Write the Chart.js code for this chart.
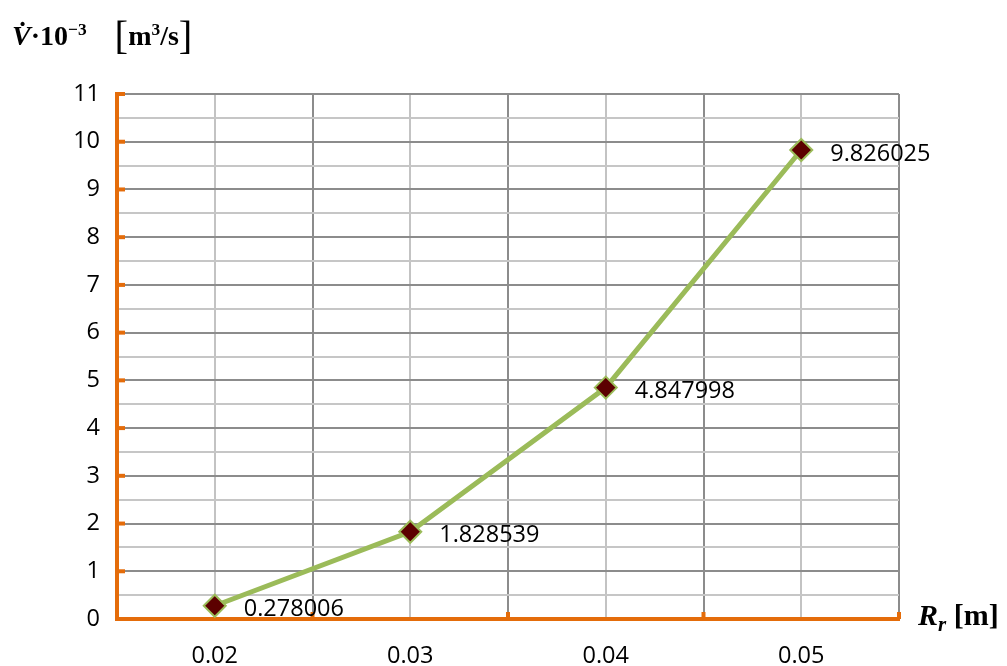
<!DOCTYPE html>
<html>
<head>
<meta charset="utf-8">
<script src="https://cdn.jsdelivr.net/npm/chart.js@4/dist/chart.umd.min.js"></script>
<style>
  body { margin: 0; background: #fff; }
  #wrap { position: relative; width: 1007px; height: 666px; }
  .ttl { position: absolute; font-family: "Liberation Serif", serif; font-weight: bold; color: #000; white-space: nowrap; }
  .ttl sup { font-size: 62%; vertical-align: 0.6em; line-height: 0; }
  .ttl sub { font-size: 70%; vertical-align: -0.3em; line-height: 0; }
  .br { font-weight: normal; font-size: 145%; vertical-align: -0.1em; }
</style>
</head>
<body>
<div id="wrap">
  <canvas id="line-chart" width="1007" height="666"></canvas>
  <div class="ttl" style="left:12px; top:12px; font-size:28px;"><i>V&#775;</i>&middot;10<sup>&minus;3</sup>&nbsp;&nbsp;&nbsp; <span class="br">[</span>m<sup>3</sup>/s<span class="br">]</span></div>
  <div class="ttl" style="left:918px; top:598px; font-size:30px;"><i>R<sub>r</sub></i> [m]</div>
</div>
<script>
// radius values [m] and flow rate V*10^-3 [m3/s]
var radius = [0.02, 0.03, 0.04, 0.05];
var flow = [0.278006, 1.828539, 4.847998, 9.826025];
var xTicks = [0.02, 0.03, 0.04, 0.05];
var yTicks = [0, 1, 2, 3, 4, 5, 6, 7, 8, 9, 10, 11];

var orange = '#E46C0A';
var tickFont = { family: '"Open Sans", sans-serif', size: 23.5 };

var points = radius.map(function (r, i) { return { x: r, y: flow[i] }; });

function isLabelX(v) {
    return xTicks.some(function (t) { return Math.abs(t - v) < 1e-6; });
}

var axisMarks = {
    id: 'axisMarks',
    beforeDatasetsDraw: function (chart) {
        var ctx = chart.ctx, xs = chart.scales.x, ys = chart.scales.y;
        var a = chart.chartArea;
        ctx.save();
        ctx.strokeStyle = orange;
        ctx.lineWidth = 4;
        yTicks.forEach(function (t) {
            var py = ys.getPixelForValue(t);
            ctx.beginPath(); ctx.moveTo(a.left, py); ctx.lineTo(a.left + 8, py); ctx.stroke();
        });
        xs.ticks.forEach(function (t) {
            if (isLabelX(t.value) || t.value < xs.min + 1e-6) return;
            var px = xs.getPixelForValue(t.value);
            ctx.beginPath(); ctx.moveTo(px, a.bottom); ctx.lineTo(px, a.bottom - 7); ctx.stroke();
        });
        ctx.restore();
    },
    afterDatasetsDraw: function (chart) {
        var ctx = chart.ctx;
        var meta = chart.getDatasetMeta(0);
        ctx.save();
        ctx.font = '23.5px "Open Sans", sans-serif';
        ctx.fillStyle = '#000';
        ctx.textBaseline = 'middle';
        meta.data.forEach(function (pt, i) {
            ctx.fillText(String(flow[i]), pt.x + 29, pt.y + 4);
        });
        ctx.restore();
    }
};

new Chart(document.getElementById('line-chart'), {
    type: 'scatter',
    data: {
        datasets: [{
            label: 'V',
            data: points,
            showLine: true,
            borderColor: '#9BBB59',
            borderWidth: 5,
            pointStyle: 'rectRot',
            pointRadius: 11,
            pointHoverRadius: 11,
            pointBackgroundColor: '#5C0000',
            pointBorderColor: '#9BBB59',
            pointBorderWidth: 2
        }]
    },
    options: {
        responsive: false,
        animation: false,
        layout: { padding: { top: 94, right: 108, left: 0, bottom: 0 } },
        plugins: { legend: { display: false }, tooltip: { enabled: false } },
        scales: {
            x: {
                type: 'linear',
                min: 0.015,
                max: 0.055,
                afterFit: function (s) { s.height = 47; },
                border: { color: orange, width: 4 },
                grid: {
                    drawTicks: false,
                    lineWidth: 2,
                    color: function (c) { return isLabelX(c.tick.value) ? '#c3c3c3' : '#8c8c8c'; }
                },
                ticks: {
                    stepSize: 0.005,
                    autoSkip: false,
                    maxRotation: 0,
                    padding: 23,
                    color: '#000',
                    font: tickFont,
                    callback: function (v) { return isLabelX(v) ? v.toFixed(2) : ''; }
                }
            },
            y: {
                min: 0,
                max: 11,
                afterFit: function (s) { s.width = 117; },
                border: { color: orange, width: 4 },
                grid: {
                    drawTicks: false,
                    lineWidth: 2,
                    color: function (c) { return Number.isInteger(c.tick.value) ? '#8c8c8c' : '#c6c6c6'; }
                },
                ticks: {
                    stepSize: 0.5,
                    autoSkip: false,
                    padding: 17,
                    color: '#000',
                    font: tickFont,
                    callback: function (v) { return Number.isInteger(v) ? v : ''; }
                }
            }
        }
    },
    plugins: [axisMarks]
});
</script>
</body>
</html>
